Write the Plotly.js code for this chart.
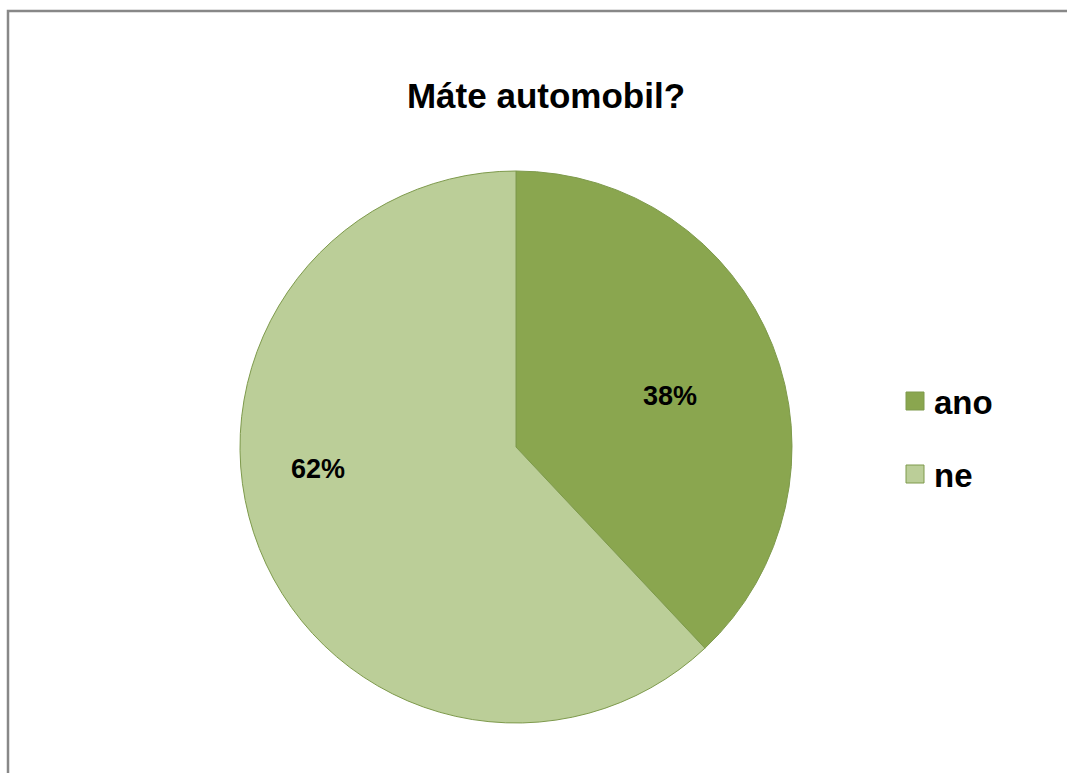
<!DOCTYPE html>
<html>
<head>
<meta charset="utf-8">
<script src="https://cdn.plot.ly/plotly-3.0.1.min.js"></script>
<style>html,body{margin:0;padding:0;background:#fff;}#chart{width:1067px;height:773px;}</style>
</head>
<body>
<div id="chart"></div>
<script>
const categories = ["ano", "ne"];
const values = [38, 62];
const colors = ["#8AA64F", "#BBCE98"];
const titleText = "Máte automobil?";

const W = 1067, H = 773;
const px = x => x / W;
const py = y => 1 - y / H;
const FONT = "Liberation Sans, Arial, sans-serif";

const trace = {
  type: "pie",
  labels: categories,
  values: values,
  sort: false,
  direction: "clockwise",
  rotation: 0,
  marker: {colors: colors, line: {color: "#7E9A4C", width: 1}},
  textinfo: "none",
  domain: {x: [px(240), px(792)], y: [py(723), py(171)]},
  hoverinfo: "label+percent",
  showlegend: false
};

const total = values.reduce((a, b) => a + b, 0);
// label placement (pixel positions of the percentage labels)
const labelPos = [[670, 396], [318, 469]];

const shapes = [{
  type: "path", xref: "paper", yref: "paper",
  path: `M ${px(8)} 0 L ${px(8)} ${py(11)} L 1.01 ${py(11)}`,
  line: {color: "#888888", width: 2.5}
}];
const annotations = [];
values.forEach((v, i) => {
  annotations.push({
    xref: "paper", yref: "paper", x: px(labelPos[i][0]), y: py(labelPos[i][1]),
    xanchor: "center", yanchor: "middle", showarrow: false,
    text: "<b>" + Math.round(v / total * 100) + "%</b>",
    font: {family: FONT, size: 27, color: "#000"}
  });
});
const legendX = 906, legendY0 = 401, legendStep = 73, sq = 18;
categories.forEach((c, i) => {
  const cy = legendY0 + i * legendStep;
  shapes.push({
    type: "rect", xref: "paper", yref: "paper",
    x0: px(legendX), x1: px(legendX + sq), y0: py(cy + sq/2), y1: py(cy - sq/2),
    fillcolor: colors[i], line: {color: "#7E9A4C", width: 1}
  });
  annotations.push({
    xref: "paper", yref: "paper", x: px(legendX + sq + 8), y: py(cy + 1), xanchor: "left", yanchor: "middle",
    text: "<b>" + c + "</b>", showarrow: false,
    font: {family: FONT, size: 33, color: "#000"}
  });
});

const layout = {
  width: W, height: H,
  margin: {l: 0, r: 0, t: 0, b: 0},
  paper_bgcolor: "#fff",
  title: {text: "<b>" + titleText + "</b>", x: px(546), xanchor: "center", y: py(96), yanchor: "middle",
    font: {family: FONT, size: 35, color: "#000"}},
  shapes: shapes,
  annotations: annotations,
  showlegend: false
};

Plotly.newPlot("chart", [trace], layout, {displayModeBar: false, staticPlot: true});
</script>
</body>
</html>
